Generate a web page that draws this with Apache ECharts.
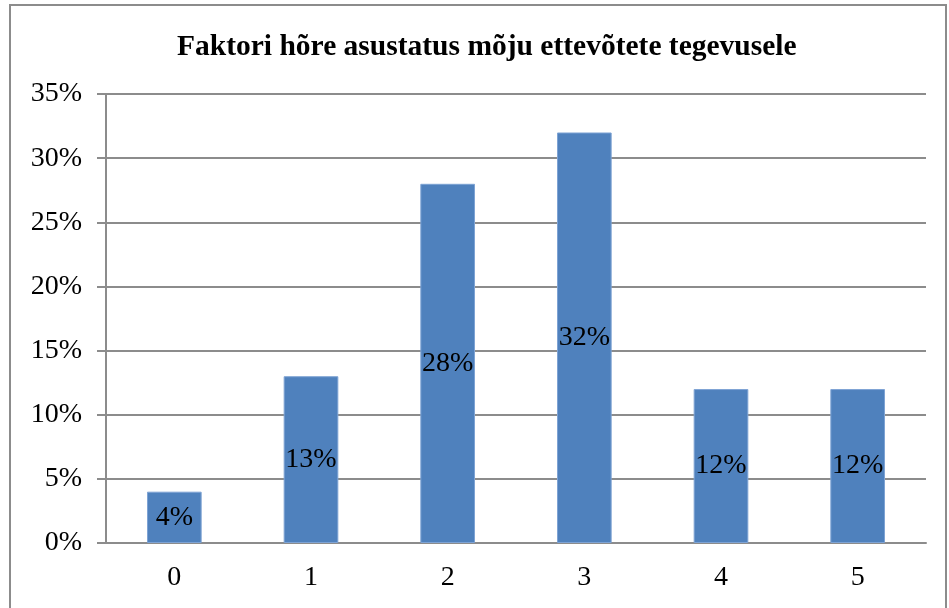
<!DOCTYPE html>
<html>
<head>
<meta charset="utf-8">
<script src="https://cdn.jsdelivr.net/npm/echarts@6/dist/echarts.min.js"></script>
<style>
  html, body { margin: 0; padding: 0; background: #fff; }
  #chart { width: 949px; height: 608px; }
</style>
</head>
<body>
<div id="chart"></div>
<script>
const title = "Faktori hõre asustatus mõju ettevõtete tegevusele";
const categories = ["0", "1", "2", "3", "4", "5"];
const values = [4, 13, 28, 32, 12, 12];
const yMax = 35;
const yStep = 5;

const font = "'Liberation Serif', 'Times New Roman', serif";
const myChart = echarts.init(document.getElementById("chart"));

let option = {
  backgroundColor: "#fff",
  animation: false,
  title: {
    text: title,
    left: 172,
    top: 27,
    textStyle: { fontFamily: font, fontWeight: "bold", fontSize: 29.5, color: "#000" },
  },
  graphic: [
    {
      type: "rect",
      shape: { x: 10, y: 5, width: 936, height: 640 },
      style: { fill: "none", stroke: "#8c8c8c", lineWidth: 2 },
      silent: true,
    },
  ],
  grid: { left: 106, right: 23, top: 94, bottom: 65 },
  xAxis: {
    type: "category",
    data: categories,
    axisLine: { lineStyle: { color: "#8c8c8c", width: 2 } },
    axisTick: { length: 8, lineStyle: { color: "#8c8c8c", width: 2 } },
    axisLabel: { fontFamily: font, fontSize: 28, color: "#000", margin: 21 },
  },
  yAxis: {
    type: "value",
    min: 0,
    max: yMax,
    interval: yStep,
    axisLine: { show: true, lineStyle: { color: "#8c8c8c", width: 2 } },
    axisTick: { show: true, length: 9, lineStyle: { color: "#8c8c8c", width: 2 } },
    splitLine: { lineStyle: { color: "#8c8c8c", width: 2 } },
    axisLabel: { fontFamily: font, fontSize: 28, color: "#000", margin: 24, formatter: "{value}%" },
  },
  series: [
    {
      type: "bar",
      data: values,
      barWidth: "40%",
      itemStyle: { color: "#4f81bd", borderColor: "#7ea3d4", borderWidth: 1 },
      label: {
        show: true,
        position: "inside",
        formatter: "{c}%",
        fontFamily: font,
        fontSize: 28,
        color: "#000",
      },
    },
  ],
};
option && myChart.setOption(option);
</script>
</body>
</html>
